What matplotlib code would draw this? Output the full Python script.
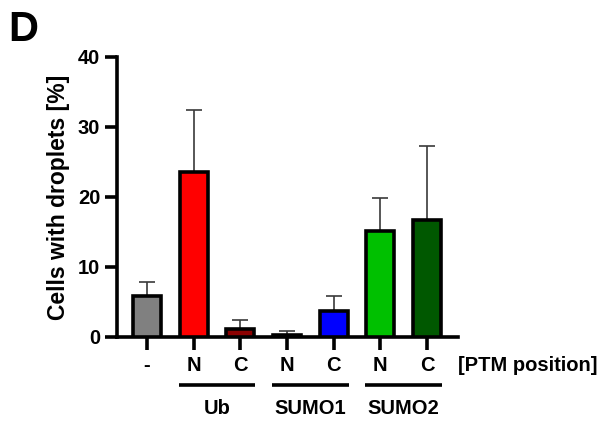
import numpy as np
import matplotlib
matplotlib.use('Agg')
import matplotlib.pyplot as plt
import matplotlib.transforms as mtransforms

plt.rcParams['font.family'] = ['Liberation Sans', 'DejaVu Sans']
plt.rcParams['font.weight'] = 'bold'

# datos
posiciones = ['-', 'N', 'C', 'N', 'C', 'N', 'C']
valores = [5.8, 23.6, 1.2, 0.3, 3.7, 15.1, 16.7]
errores = [2.0, 8.8, 1.2, 0.5, 2.1, 4.8, 10.6]
colores = ['#808080', '#ff0000', '#8b0000', '#9fb4ff', '#0000ff', '#00c000', '#005800']
grupos = ['Ub', 'SUMO1', 'SUMO2']
centros_grupo = [1.5, 3.5, 5.5]

fs = 14.5
lw = 2.6

fig = plt.figure(figsize=(5.98, 4.21), dpi=100)
ax = fig.add_axes([117/598, (421-337)/421, (458-117)/598, 280/421])

x = np.arange(len(valores))
ax.bar(x, valores, width=0.6, color=colores, edgecolor='black', linewidth=lw, zorder=3)
ax.errorbar(x, valores, yerr=[np.zeros(len(errores)), errores], fmt='none',
            ecolor='#3a3a3a', elinewidth=1.2, capsize=5.5, capthick=1.2, zorder=2)

ax.set_xlim(-0.643, 6.664)
ax.set_ylim(0, 40)
ax.set_yticks([0, 10, 20, 30, 40])
ax.set_xticks(x)
ax.set_xticklabels(posiciones)
ax.spines['top'].set_visible(False)
ax.spines['right'].set_visible(False)
ax.spines['left'].set_linewidth(lw)
ax.spines['bottom'].set_linewidth(lw)
ax.tick_params(axis='both', width=lw, length=9, labelsize=fs, pad=3)
ax.tick_params(axis='x', pad=5)
ax.set_ylabel('Cells with droplets [%]', fontsize=16.5, fontweight='bold', labelpad=6)

# lineas y nombres de los grupos
trans = mtransforms.blended_transform_factory(ax.transData, ax.transAxes)
for c, g in zip(centros_grupo, grupos):
    ax.plot([c - 0.82, c + 0.82], [-0.171, -0.171], color='black', lw=lw,
            transform=trans, clip_on=False, solid_capstyle='butt')
    ax.text(c, -0.255, g, transform=trans, ha='center', va='center',
            fontsize=fs, fontweight='bold')

ax.text(1.0, -0.103, '[PTM position]', transform=ax.transAxes, ha='left', va='center',
        fontsize=fs, fontweight='bold')

fig.text(8/598, 1 - 30/421, 'D', fontsize=30, fontweight='bold', ha='left', va='center')

fig.savefig('out.png', dpi=100)
